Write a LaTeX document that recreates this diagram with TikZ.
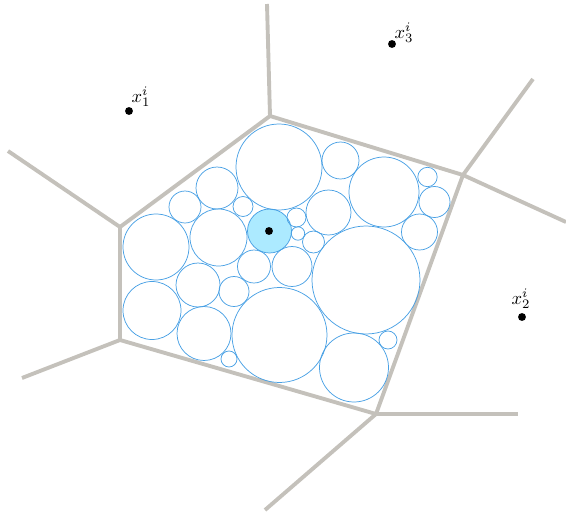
\documentclass[tikz,border=0pt]{standalone}
\usepackage{amsmath,amssymb}
\usepackage{xcolor}
\usepackage{tikz}

\definecolor{cellgray}{RGB}{196,193,187}
\definecolor{diskblue}{RGB}{72,160,228}
\definecolor{diskfill}{RGB}{172,234,255}

\begin{document}
\begin{tikzpicture}[
      x=0.019cm, y=-0.019cm,
      cell/.style={draw=cellgray, line width=2.1pt, line join=round},
      disk/.style={draw=diskblue, line width=0.4pt},
      site/.style={circle, fill=black, inner sep=0pt, minimum size=0.15cm},
      lbl/.style={font=\normalsize, inner sep=0pt}]
    \useasboundingbox (0,0) rectangle (566,518);
    % cell corners
    \coordinate (va) at (270,116);
    \coordinate (vb) at (463,175);
    \coordinate (vc) at (376,414);
    \coordinate (vd) at (120,340);
    \coordinate (ve) at (120,227);
    % free ends of the outer edges
    \coordinate (ea) at (267,4);
    \coordinate (eb) at (533,79);
    \coordinate (eb2) at (566,222);
    \coordinate (ec) at (518,414);
    \coordinate (ec2) at (265,510);
    \coordinate (ed) at (22,378);
    \coordinate (ee) at (8,151);
    \draw[cell] (va) -- (vb) -- (vc) -- (vd) -- (ve) -- cycle;
    \foreach \v/\e in {va/ea, vb/eb, vb/eb2, vc/ec, vc/ec2, vd/ed, ve/ee}{
      \draw[cell] (\v) -- (\e);
    }
    % packed disks
    \draw[disk, fill=diskfill] (269.5,231) circle[radius=22];
    \foreach \cx/\cy/\r in {279/167/43, 340.5/160.5/18.5, 384/192/35, 427.5/177/9.7,
        434.5/202/15.5, 419.5/232/18, 328.5/212.5/22.5, 296.5/217.5/9.5,
        298/233.5/6.7, 313.5/242/11, 366/280/54, 354/367.5/34.5, 388/340/9,
        279.5/335/47.5, 292/266.5/20, 254/266.5/16.5, 234/291.5/15,
        198/285/22, 152/310.5/29, 204/333.5/27, 229/359/8, 156/247/33,
        218.5/237.5/28.5, 217/188/21, 185/207/16, 243/206.5/10}{
      \draw[disk] (\cx,\cy) circle[radius=\r];
    }
    % sites
    \node[site] (c0) at (269,231) {};
    \node[site] (s1) at (129,111) {};
    \node[site] (s2) at (522,317) {};
    \node[site] (s3) at (392,44) {};
    \node[lbl] (l1) at (141,97) {$x_1^i$};
    \node[lbl] (l2) at (521,299) {$x_2^i$};
    \node[lbl] (l3) at (404,33) {$x_3^i$};
  \end{tikzpicture}
\end{document}
